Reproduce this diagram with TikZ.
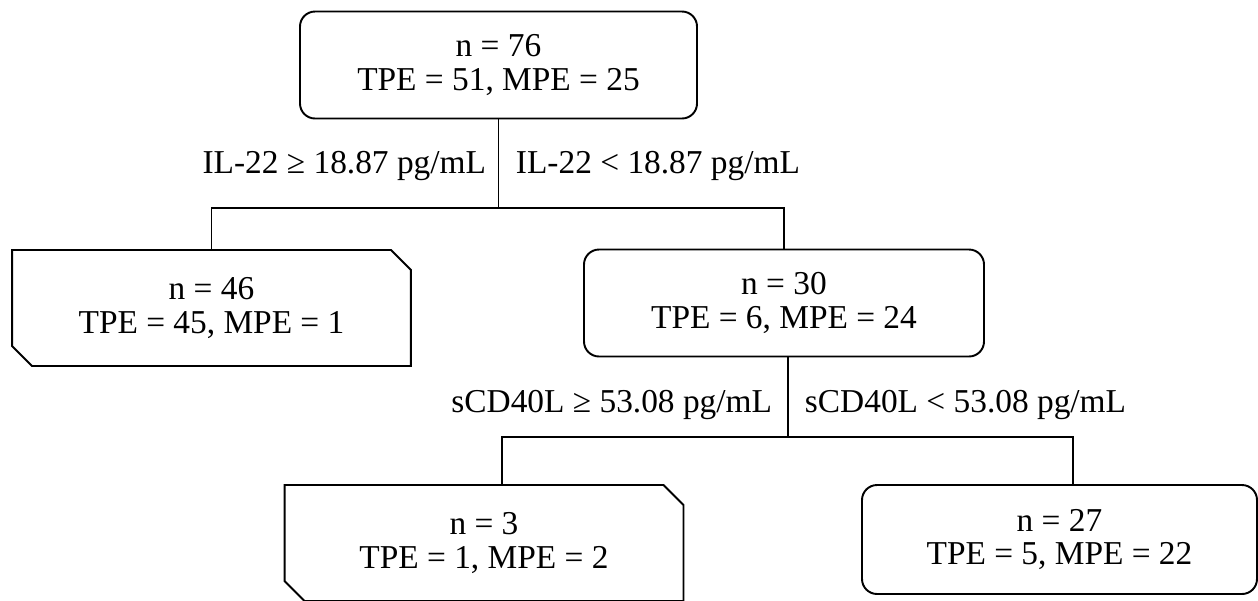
\documentclass[tikz,border=0pt]{standalone}
\usepackage{fontspec}
\setmainfont{Liberation Serif}
\usepackage{tikz}
\usetikzlibrary{shapes.misc}

\tikzset{
	split/.style={draw, rounded corners=0.3cm, align=center, inner sep=0pt,
		minimum width=#1*0.02cm, minimum height=2.14cm},
	leaf/.style={draw, chamfered rectangle, chamfered rectangle corners={north east, south west},
		chamfered rectangle xsep=0.2cm, chamfered rectangle ysep=0.2cm,
		align=center, inner sep=0pt, minimum width=7.98cm, minimum height=2.32cm},
	cut/.style={inner sep=0pt, font=\fontsize{19}{19}\selectfont}
}

\begin{document}
\begin{tikzpicture}[x=0.02cm, y=-0.02cm, line width=1.1pt, font=\fontsize{19}{19}\selectfont]
	\useasboundingbox (0,0) rectangle (1258,600);
% draw nodes
	\node[split=397] (root) at (498.5,65) {n = 76\\TPE = 51, MPE = 25};
	\node[leaf] (n46) at (211.5,308) {n = 46\\TPE = 45, MPE = 1};
	\node[split=400] (n30) at (784,303) {n = 30\\TPE = 6, MPE = 24};
	\node[leaf] (n3) at (484,543) {n = 3\\TPE = 1, MPE = 2};
	\node[split=395, minimum height=2.18cm] (n27) at (1059.5,539.5) {n = 27\\TPE = 5, MPE = 22};
% first split
	\coordinate (s1) at (498,208);
	\draw (root.south) -- (root.south |- s1);
	\draw (n46.north) |- (s1) -| (n30.north);
	\node[cut, anchor=base east] (c1l) at (487,173) {IL-22 ≥ 18.87 pg/mL};
	\node[cut, anchor=base west] (c1r) at (515,173) {IL-22 < 18.87 pg/mL};
% second split
	\coordinate (s2) at (788,437);
	\coordinate (s2l) at (502,437);
	\coordinate (s2r) at (1073,437);
	\draw (n30.south -| s2) -- (s2);
	\draw (n3.north -| s2l) |- (s2r) -- (n27.north -| s2r);
	\node[cut, anchor=base east] (c2l) at (773,412) {sCD40L ≥ 53.08 pg/mL};
	\node[cut, anchor=base west] (c2r) at (804,412) {sCD40L < 53.08 pg/mL};
\end{tikzpicture}
\end{document}
